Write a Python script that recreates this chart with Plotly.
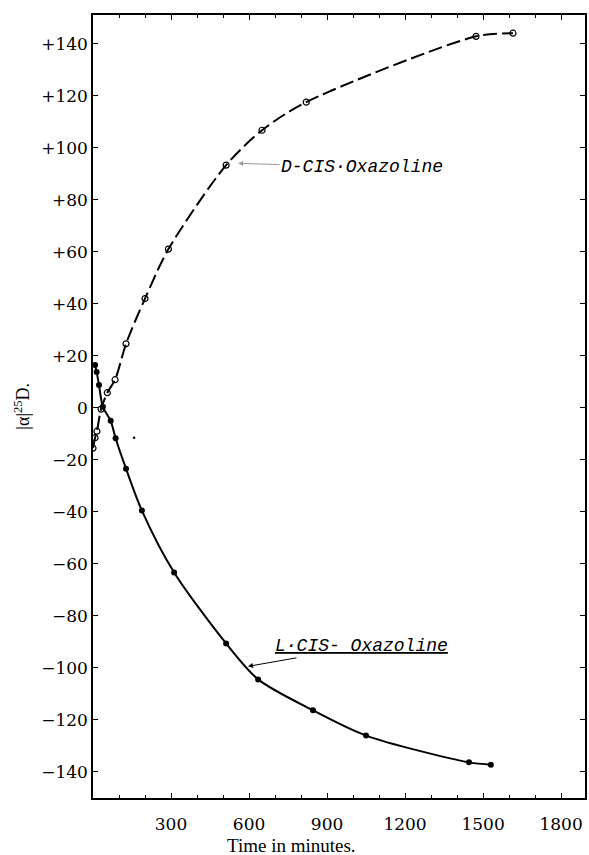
import plotly.graph_objects as go

# D-cis-Oxazoline (open circles, dashed curve)
d_time = [0, 8, 15, 31, 55, 85, 127, 200, 290, 512, 650, 820, 1473, 1615]
d_rot = [-15.5, -11.5, -9, -0.5, 5.8, 10.8, 24.6, 42, 61, 93.3, 106.7, 117.5, 142.8, 144]

# L-cis-Oxazoline (filled dots, solid curve)
l_time = [8, 14, 23, 38, 68, 87, 127, 188, 312, 512, 635, 846, 1050, 1446, 1530]
l_rot = [16.5, 13.8, 8.8, 0.4, -5, -11.7, -23.4, -39.5, -63.3, -90.6, -104.4, -116.3, -126, -136.3, -137.2]

# stray speck on the original print
speck_time = [158]
speck_rot = [-11.5]

x_ticks = [300, 600, 900, 1200, 1500, 1800]
y_ticks = list(range(-140, 141, 20))
y_labels = [("+%d" % v if v > 0 else ("0" if v == 0 else "\u2212%d" % -v)) for v in y_ticks]

serif = "DejaVu Serif"
letter = "Liberation Mono"

fig = go.Figure()
fig.add_trace(go.Scatter(
    x=d_time, y=d_rot, mode="lines+markers",
    line=dict(color="black", width=2, dash="14px,5px", shape="spline", smoothing=0.8),
    marker=dict(symbol="circle-open", size=6, color="black", line=dict(width=1.2)),
    showlegend=False))
fig.add_trace(go.Scatter(
    x=l_time, y=l_rot, mode="lines+markers",
    line=dict(color="black", width=2, shape="spline", smoothing=0.8),
    marker=dict(symbol="circle", size=6, color="black"),
    showlegend=False))
fig.add_trace(go.Scatter(
    x=speck_time, y=speck_rot, mode="markers",
    marker=dict(symbol="circle", size=2.5, color="black"),
    showlegend=False))

axis_common = dict(showgrid=False, zeroline=False, showline=True, linecolor="black",
                   linewidth=1.5, mirror="ticks", ticks="inside", ticklen=5,
                   tickcolor="black", tickwidth=1, automargin=False,
                   tickfont=dict(family=serif, size=17, color="black"))

fig.update_xaxes(range=[0, 1892], tickvals=x_ticks, ticklabelstandoff=10,
                 minor=dict(dtick=100, ticks="inside", ticklen=3, tickcolor="black"),
                 **axis_common)
fig.update_yaxes(range=[-150, 151], tickvals=y_ticks, ticktext=y_labels,
                 **axis_common)

fig.add_annotation(x=558, y=94, xref="x", yref="y", text="<i>D-CIS\u00b7Oxazoline</i>",
                   showarrow=True, ax=124, ay=4, arrowhead=2, arrowsize=1,
                   arrowwidth=1, arrowcolor="#999",
                   font=dict(family=letter, size=18, color="black"),
                   xanchor="center", yanchor="middle")
fig.add_annotation(x=596, y=-99.4, xref="x", yref="y", text="<u><i>L\u00b7CIS- Oxazoline</i></u>",
                   showarrow=True, ax=114, ay=-20, arrowhead=2, arrowsize=1,
                   arrowwidth=1, arrowcolor="black",
                   font=dict(family=letter, size=18, color="black"),
                   xanchor="center", yanchor="middle")
fig.add_annotation(x=-0.144, y=0.5, xref="paper", yref="paper",
                   text="|\u03b1|<sup>25</sup>D.", textangle=-90, showarrow=False,
                   font=dict(family="Liberation Serif", size=18, color="black"),
                   xanchor="center", yanchor="middle")
fig.add_annotation(x=0.404, y=-0.0605, xref="paper", yref="paper",
                   text="Time in minutes.", showarrow=False,
                   font=dict(family="Liberation Serif", size=19, color="black"),
                   xanchor="center", yanchor="middle")

fig.update_layout(width=589, height=855, margin=dict(l=93, r=4, t=15, b=57),
                  plot_bgcolor="white", paper_bgcolor="white")

fig.write_html("out.html", config={"displayModeBar": False},
               post_script="document.body.style.margin='0';document.body.style.overflow='hidden';")
